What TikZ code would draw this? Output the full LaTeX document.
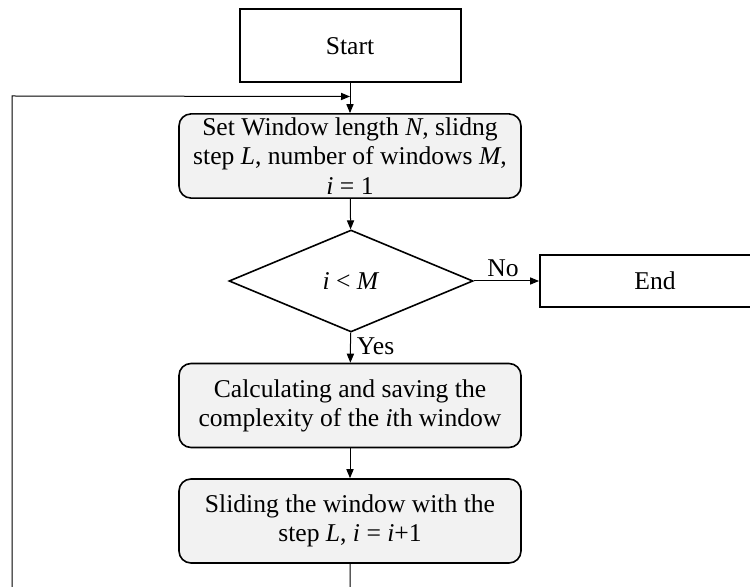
\documentclass[tikz,border=0pt]{standalone}
\usepackage{fontspec}
\setmainfont{Liberation Serif}
\usetikzlibrary{positioning,calc,shapes.geometric,arrows.meta}

\begin{document}
\begin{tikzpicture}[x=0.5pt, y=-0.5pt, >={Triangle[length=4.5pt,width=3.6pt]},
		term/.style = {draw, line width=1pt, rectangle, minimum width=110.5pt, minimum height=36.5pt},
		proc/.style = {draw, line width=0.8pt, rectangle, rounded corners=6pt, fill=gray!10, align=center,
			minimum width=171pt, minimum height=42pt, inner sep=2pt},
		decide/.style = {draw, line width=0.8pt, diamond, aspect=2.4, inner sep=0pt, minimum width=122pt, minimum height=51pt},
		link/.style = {->, line width=0.5pt} ]
    \useasboundingbox (0,0) rectangle (750,587);
    \clip (0,0) rectangle (750,587);
    \tikzset{every node/.style={font=\fontsize{12.8}{14.6}\selectfont}}
    \node [term] (start) at (350,46) {Start};
    \node [proc] (init) at (350,156) {Set Window length \textit{N}, slidng\\ step \textit{L}, number of windows \textit{M},\\ \textit{i} = 1};
    \node [decide] (test) at (351,281) {\textit{i} < \textit{M}};
    \node [term, minimum width=115pt, minimum height=26pt] (finish) at (655,281) {End};
    \node [proc] (calc) at (350,405.5) {Calculating and saving the\\ complexity of the \textit{i}th window};
    \node [proc] (slide) at (350,521) {Sliding the window with the\\ step \textit{L}, \textit{i} = \textit{i}+1};
    \coordinate (merge) at ($(start.south)+(0,13)$);
    \coordinate (under) at (350,620);
    \draw [link] (start) -- (init);
    \draw [link] (init) -- (test);
    \draw [link] (test) -- node [above, pos=0.45, inner sep=2pt] {No} (finish);
    \draw [link] (test) -- node [right, pos=0.45, inner sep=3pt] {Yes} (calc);
    \draw [link] (calc) -- (slide);
    \draw [link] (slide) -- (under) -| (12,96) -- (merge);
\end{tikzpicture}
\end{document}
